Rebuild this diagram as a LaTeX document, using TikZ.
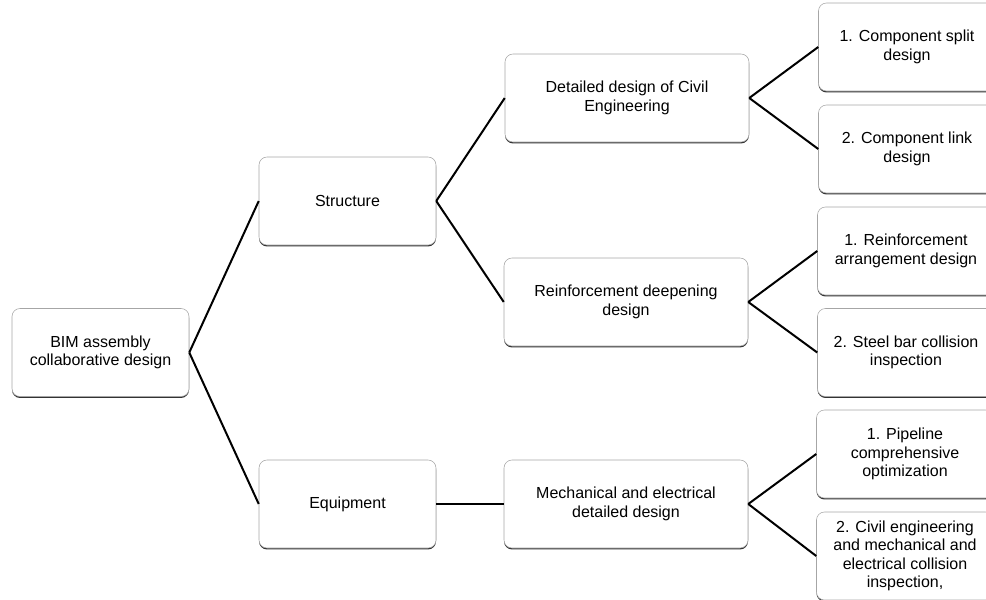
\documentclass[tikz,border=0pt]{standalone}
\usepackage{fontspec}
\setmainfont{Liberation Sans}
\usetikzlibrary{shadows, positioning}
\tikzset {
  box/.style = {draw=gray!70, thin, fill=white, rounded corners=6pt, rectangle, align=center,
                font=\fontsize{12}{13.8}\selectfont, minimum height=66pt, minimum width=132.75pt,
                drop shadow={shadow xshift=0pt, shadow yshift=-1.1pt, opacity=1, fill=black!80}},
  widebox/.style = {box, minimum width=183pt},
  line/.style = {-, line width=1.5pt, color=black}
}

\begin{document}
\begin{tikzpicture}[x=0.75pt, y=-0.75pt]

    \useasboundingbox (0,0) rectangle (986,600);
    \clip (0,0) rectangle (986,600);

    \node[box] (root) at (100.5,352.5) {BIM assembly\\collaborative design};
    \node[box] (structure) at (347.5,201) {Structure};
    \node[box] (equipment) at (347.5,504) {Equipment};

    \node[widebox] (civil) at (627,98) {Detailed design of Civil\\Engineering};
    \node[widebox] (rebar) at (626,302) {Reinforcement deepening\\design};
    \node[widebox] (mep) at (626,504) {Mechanical and electrical\\detailed design};

    \node[box] (split) at (907,47) {1. Component split\\design};
    \node[box] (link) at (907,149) {2. Component link\\design};
    \node[box] (arrange) at (906,251) {1. Reinforcement\\arrangement design};
    \node[box] (steel) at (906,352.5) {2. Steel bar collision\\inspection};
    \node[box] (pipe) at (905,454) {1. Pipeline\\comprehensive\\optimization};
    \node[box] (clash) at (905,556) {2. Civil engineering\\and mechanical and\\electrical collision\\inspection,};

    \draw[line] (root.east) -- (structure.west);
    \draw[line] (root.east) -- (equipment.west);
    \draw[line] (structure.east) -- (civil.west);
    \draw[line] (structure.east) -- (rebar.west);
    \draw[line] (equipment.east) -- (mep.west);
    \draw[line] (civil.east) -- (split.west);
    \draw[line] (civil.east) -- (link.west);
    \draw[line] (rebar.east) -- (arrange.west);
    \draw[line] (rebar.east) -- (steel.west);
    \draw[line] (mep.east) -- (pipe.west);
    \draw[line] (mep.east) -- (clash.west);

\end{tikzpicture}
\end{document}
